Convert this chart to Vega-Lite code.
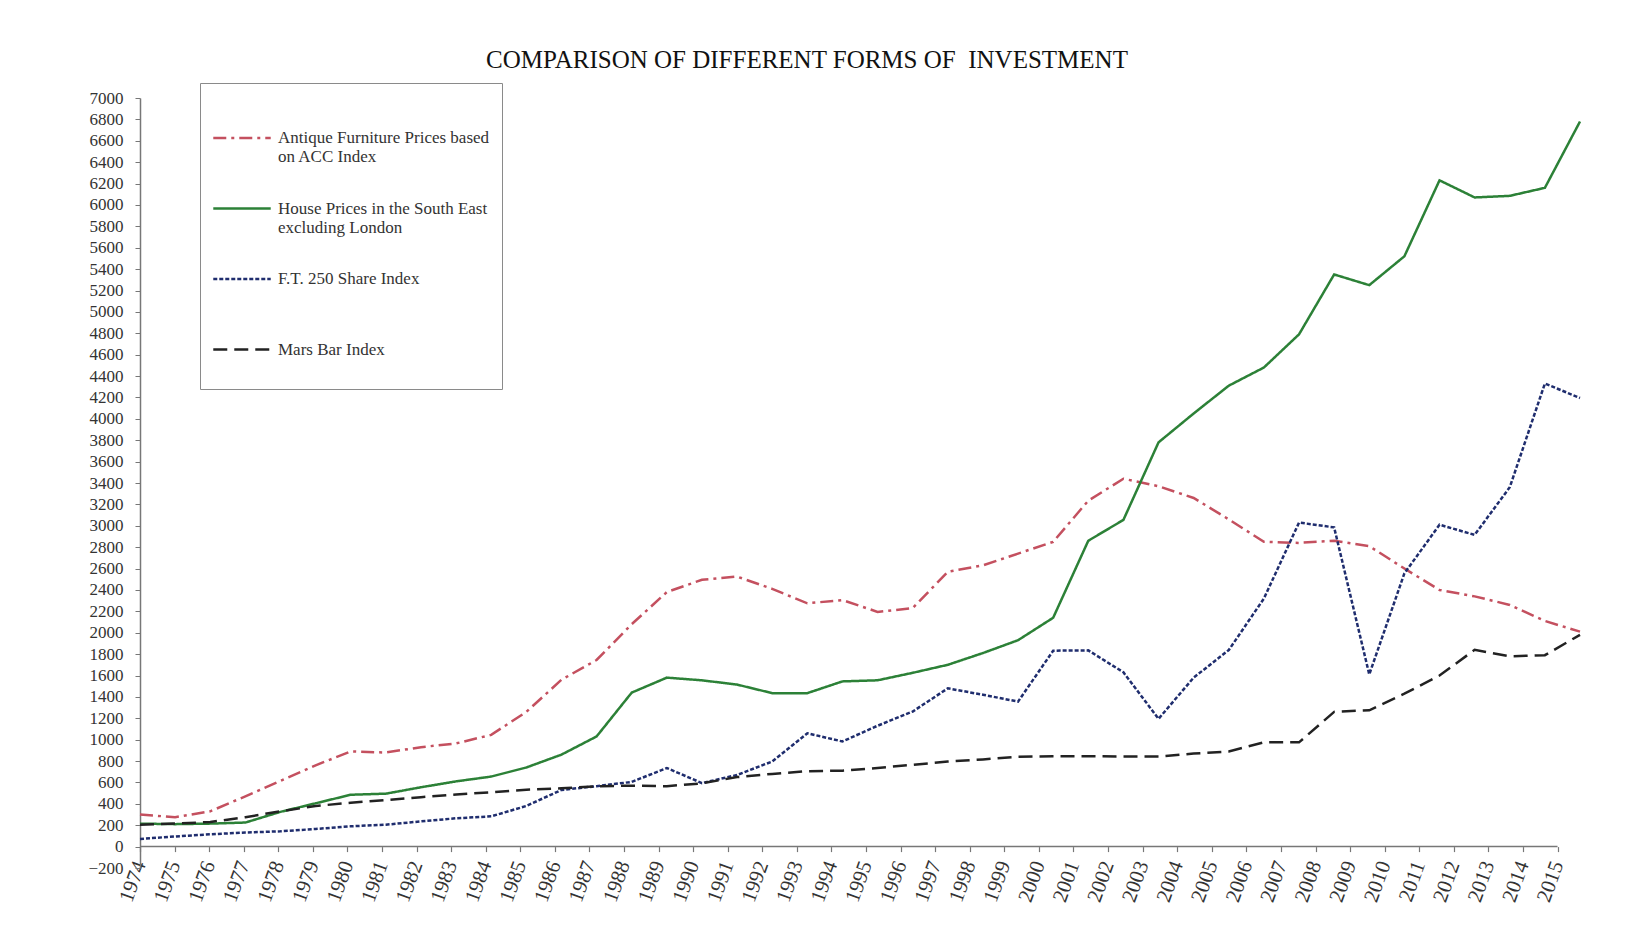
{
  "$schema": "https://vega.github.io/schema/vega-lite/v6.json",
  "autosize": "none",
  "width": 1440,
  "height": 770,
  "padding": {"left": 140, "top": 98, "right": 46, "bottom": 71},
  "background": "white",
  "title": {
    "text": "COMPARISON OF DIFFERENT FORMS OF\u00a0 INVESTMENT",
    "font": "Liberation Serif",
    "fontSize": 25,
    "fontWeight": "normal",
    "color": "#111111",
    "anchor": "middle",
    "dx": -53,
    "offset": 10
  },
  "config": {
    "view": {"stroke": null},
    "axis": {"labelOverlap": false},
    "axisY": {"labelOverlap": false},
    "legend": {
      "orient": "none",
      "strokeColor": "#8a8a8a",
      "fillColor": "white",
      "padding": 12,
      "symbolType": "stroke",
      "symbolSize": 3300,
      "symbolStrokeWidth": 2.5,
      "labelFont": "Liberation Serif",
      "labelFontSize": 17,
      "labelColor": "#333333",
      "labelLimit": 400,
      "gridAlign": "all",
      "rowPadding": 13.5,
      "labelOffset": 6,
      "titleFont": "Liberation Serif",
      "titleFontSize": 11,
      "titlePadding": 2
    }
  },
  "layer": [
    {
      "data": {"values": [{"k": 1}]},
      "mark": {"type": "rule", "color": "#777777", "strokeWidth": 1.5},
      "encoding": {
        "x": {
          "datum": 1974,
          "type": "quantitative",
          "scale": {"domain": [1974, 2015.65], "nice": false, "zero": false},
          "axis": {
            "title": null,
            "grid": false,
            "domain": false,
            "offset": -21.4,
            "values": [1974,1975,1976,1977,1978,1979,1980,1981,1982,1983,1984,1985,1986,1987,1988,1989,1990,1991,1992,1993,1994,1995,1996,1997,1998,1999,2000,2001,2002,2003,2004,2005,2006,2007,2008,2009,2010,2011,2012,2013,2014,2015],
            "format": "d",
            "labelAngle": -70,
            "labelAlign": "right",
            "labelBaseline": "middle",
            "labelFont": "Liberation Serif",
            "labelFontSize": 21,
            "labelColor": "#333333",
            "labelPadding": 10,
            "labelOverlap": false,
            "labelFlush": false,
            "tickSize": 5,
            "tickColor": "#777777",
            "tickWidth": 1.2
          }
        },
        "x2": {"datum": 2015},
        "y": {
          "datum": 0,
          "type": "quantitative",
          "scale": {"domain": [-200, 7000], "nice": false, "zero": false},
          "axis": {
            "title": null,
            "grid": false,
            "values": [-200,0,200,400,600,800,1000,1200,1400,1600,1800,2000,2200,2400,2600,2800,3000,3200,3400,3600,3800,4000,4200,4400,4600,4800,5000,5200,5400,5600,5800,6000,6200,6400,6600,6800,7000],
            "format": "d",
            "labelFont": "Liberation Serif",
            "labelFontSize": 17,
            "labelColor": "#333333",
            "labelPadding": 12,
            "labelOverlap": false,
            "labelFlush": false,
            "tickSize": 5,
            "tickColor": "#777777",
            "domainColor": "#777777",
            "domainWidth": 1.5
          }
        }
      }
    },
    {
      "data": {
        "values": [
          {"year":1974,"series":"Antique Furniture Prices based on ACC Index","value":300},
          {"year":1975,"series":"Antique Furniture Prices based on ACC Index","value":275},
          {"year":1976,"series":"Antique Furniture Prices based on ACC Index","value":330},
          {"year":1977,"series":"Antique Furniture Prices based on ACC Index","value":470},
          {"year":1978,"series":"Antique Furniture Prices based on ACC Index","value":615},
          {"year":1979,"series":"Antique Furniture Prices based on ACC Index","value":760},
          {"year":1980,"series":"Antique Furniture Prices based on ACC Index","value":890},
          {"year":1981,"series":"Antique Furniture Prices based on ACC Index","value":880},
          {"year":1982,"series":"Antique Furniture Prices based on ACC Index","value":930},
          {"year":1983,"series":"Antique Furniture Prices based on ACC Index","value":965},
          {"year":1984,"series":"Antique Furniture Prices based on ACC Index","value":1045},
          {"year":1985,"series":"Antique Furniture Prices based on ACC Index","value":1260},
          {"year":1986,"series":"Antique Furniture Prices based on ACC Index","value":1560},
          {"year":1987,"series":"Antique Furniture Prices based on ACC Index","value":1745},
          {"year":1988,"series":"Antique Furniture Prices based on ACC Index","value":2080},
          {"year":1989,"series":"Antique Furniture Prices based on ACC Index","value":2380},
          {"year":1990,"series":"Antique Furniture Prices based on ACC Index","value":2495},
          {"year":1991,"series":"Antique Furniture Prices based on ACC Index","value":2525},
          {"year":1992,"series":"Antique Furniture Prices based on ACC Index","value":2410},
          {"year":1993,"series":"Antique Furniture Prices based on ACC Index","value":2275},
          {"year":1994,"series":"Antique Furniture Prices based on ACC Index","value":2305},
          {"year":1995,"series":"Antique Furniture Prices based on ACC Index","value":2195},
          {"year":1996,"series":"Antique Furniture Prices based on ACC Index","value":2230},
          {"year":1997,"series":"Antique Furniture Prices based on ACC Index","value":2570},
          {"year":1998,"series":"Antique Furniture Prices based on ACC Index","value":2630},
          {"year":1999,"series":"Antique Furniture Prices based on ACC Index","value":2740},
          {"year":2000,"series":"Antique Furniture Prices based on ACC Index","value":2850},
          {"year":2001,"series":"Antique Furniture Prices based on ACC Index","value":3235},
          {"year":2002,"series":"Antique Furniture Prices based on ACC Index","value":3440},
          {"year":2003,"series":"Antique Furniture Prices based on ACC Index","value":3370},
          {"year":2004,"series":"Antique Furniture Prices based on ACC Index","value":3260},
          {"year":2005,"series":"Antique Furniture Prices based on ACC Index","value":3060},
          {"year":2006,"series":"Antique Furniture Prices based on ACC Index","value":2850},
          {"year":2007,"series":"Antique Furniture Prices based on ACC Index","value":2840},
          {"year":2008,"series":"Antique Furniture Prices based on ACC Index","value":2860},
          {"year":2009,"series":"Antique Furniture Prices based on ACC Index","value":2810},
          {"year":2010,"series":"Antique Furniture Prices based on ACC Index","value":2600},
          {"year":2011,"series":"Antique Furniture Prices based on ACC Index","value":2400},
          {"year":2012,"series":"Antique Furniture Prices based on ACC Index","value":2340},
          {"year":2013,"series":"Antique Furniture Prices based on ACC Index","value":2260},
          {"year":2014,"series":"Antique Furniture Prices based on ACC Index","value":2110},
          {"year":2015,"series":"Antique Furniture Prices based on ACC Index","value":2010},
          {"year":1974,"series":"House Prices in the South East excluding London","value":215},
          {"year":1975,"series":"House Prices in the South East excluding London","value":210},
          {"year":1976,"series":"House Prices in the South East excluding London","value":215},
          {"year":1977,"series":"House Prices in the South East excluding London","value":225},
          {"year":1978,"series":"House Prices in the South East excluding London","value":325},
          {"year":1979,"series":"House Prices in the South East excluding London","value":405},
          {"year":1980,"series":"House Prices in the South East excluding London","value":485},
          {"year":1981,"series":"House Prices in the South East excluding London","value":495},
          {"year":1982,"series":"House Prices in the South East excluding London","value":555},
          {"year":1983,"series":"House Prices in the South East excluding London","value":610},
          {"year":1984,"series":"House Prices in the South East excluding London","value":655},
          {"year":1985,"series":"House Prices in the South East excluding London","value":740},
          {"year":1986,"series":"House Prices in the South East excluding London","value":860},
          {"year":1987,"series":"House Prices in the South East excluding London","value":1030},
          {"year":1988,"series":"House Prices in the South East excluding London","value":1440},
          {"year":1989,"series":"House Prices in the South East excluding London","value":1580},
          {"year":1990,"series":"House Prices in the South East excluding London","value":1555},
          {"year":1991,"series":"House Prices in the South East excluding London","value":1515},
          {"year":1992,"series":"House Prices in the South East excluding London","value":1435},
          {"year":1993,"series":"House Prices in the South East excluding London","value":1435},
          {"year":1994,"series":"House Prices in the South East excluding London","value":1545},
          {"year":1995,"series":"House Prices in the South East excluding London","value":1555},
          {"year":1996,"series":"House Prices in the South East excluding London","value":1625},
          {"year":1997,"series":"House Prices in the South East excluding London","value":1700},
          {"year":1998,"series":"House Prices in the South East excluding London","value":1810},
          {"year":1999,"series":"House Prices in the South East excluding London","value":1930},
          {"year":2000,"series":"House Prices in the South East excluding London","value":2140},
          {"year":2001,"series":"House Prices in the South East excluding London","value":2860},
          {"year":2002,"series":"House Prices in the South East excluding London","value":3055},
          {"year":2003,"series":"House Prices in the South East excluding London","value":3780},
          {"year":2004,"series":"House Prices in the South East excluding London","value":4050},
          {"year":2005,"series":"House Prices in the South East excluding London","value":4310},
          {"year":2006,"series":"House Prices in the South East excluding London","value":4480},
          {"year":2007,"series":"House Prices in the South East excluding London","value":4790},
          {"year":2008,"series":"House Prices in the South East excluding London","value":5350},
          {"year":2009,"series":"House Prices in the South East excluding London","value":5250},
          {"year":2010,"series":"House Prices in the South East excluding London","value":5520},
          {"year":2011,"series":"House Prices in the South East excluding London","value":6230},
          {"year":2012,"series":"House Prices in the South East excluding London","value":6070},
          {"year":2013,"series":"House Prices in the South East excluding London","value":6085},
          {"year":2014,"series":"House Prices in the South East excluding London","value":6160},
          {"year":2015,"series":"House Prices in the South East excluding London","value":6780},
          {"year":1974,"series":"F.T. 250 Share Index","value":72},
          {"year":1975,"series":"F.T. 250 Share Index","value":95},
          {"year":1976,"series":"F.T. 250 Share Index","value":115},
          {"year":1977,"series":"F.T. 250 Share Index","value":132},
          {"year":1978,"series":"F.T. 250 Share Index","value":143},
          {"year":1979,"series":"F.T. 250 Share Index","value":165},
          {"year":1980,"series":"F.T. 250 Share Index","value":190},
          {"year":1981,"series":"F.T. 250 Share Index","value":205},
          {"year":1982,"series":"F.T. 250 Share Index","value":236},
          {"year":1983,"series":"F.T. 250 Share Index","value":265},
          {"year":1984,"series":"F.T. 250 Share Index","value":283},
          {"year":1985,"series":"F.T. 250 Share Index","value":380},
          {"year":1986,"series":"F.T. 250 Share Index","value":530},
          {"year":1987,"series":"F.T. 250 Share Index","value":565},
          {"year":1988,"series":"F.T. 250 Share Index","value":605},
          {"year":1989,"series":"F.T. 250 Share Index","value":735},
          {"year":1990,"series":"F.T. 250 Share Index","value":594},
          {"year":1991,"series":"F.T. 250 Share Index","value":670},
          {"year":1992,"series":"F.T. 250 Share Index","value":796},
          {"year":1993,"series":"F.T. 250 Share Index","value":1060},
          {"year":1994,"series":"F.T. 250 Share Index","value":983},
          {"year":1995,"series":"F.T. 250 Share Index","value":1130},
          {"year":1996,"series":"F.T. 250 Share Index","value":1263},
          {"year":1997,"series":"F.T. 250 Share Index","value":1480},
          {"year":1998,"series":"F.T. 250 Share Index","value":1420},
          {"year":1999,"series":"F.T. 250 Share Index","value":1356},
          {"year":2000,"series":"F.T. 250 Share Index","value":1832},
          {"year":2001,"series":"F.T. 250 Share Index","value":1835},
          {"year":2002,"series":"F.T. 250 Share Index","value":1630},
          {"year":2003,"series":"F.T. 250 Share Index","value":1195},
          {"year":2004,"series":"F.T. 250 Share Index","value":1580},
          {"year":2005,"series":"F.T. 250 Share Index","value":1838},
          {"year":2006,"series":"F.T. 250 Share Index","value":2320},
          {"year":2007,"series":"F.T. 250 Share Index","value":3030},
          {"year":2008,"series":"F.T. 250 Share Index","value":2985},
          {"year":2009,"series":"F.T. 250 Share Index","value":1610},
          {"year":2010,"series":"F.T. 250 Share Index","value":2555},
          {"year":2011,"series":"F.T. 250 Share Index","value":3010},
          {"year":2012,"series":"F.T. 250 Share Index","value":2915},
          {"year":2013,"series":"F.T. 250 Share Index","value":3360},
          {"year":2014,"series":"F.T. 250 Share Index","value":4330},
          {"year":2015,"series":"F.T. 250 Share Index","value":4195},
          {"year":1974,"series":"Mars Bar Index","value":205},
          {"year":1975,"series":"Mars Bar Index","value":215},
          {"year":1976,"series":"Mars Bar Index","value":230},
          {"year":1977,"series":"Mars Bar Index","value":275},
          {"year":1978,"series":"Mars Bar Index","value":330},
          {"year":1979,"series":"Mars Bar Index","value":380},
          {"year":1980,"series":"Mars Bar Index","value":410},
          {"year":1981,"series":"Mars Bar Index","value":435},
          {"year":1982,"series":"Mars Bar Index","value":462},
          {"year":1983,"series":"Mars Bar Index","value":487},
          {"year":1984,"series":"Mars Bar Index","value":508},
          {"year":1985,"series":"Mars Bar Index","value":532},
          {"year":1986,"series":"Mars Bar Index","value":545},
          {"year":1987,"series":"Mars Bar Index","value":565},
          {"year":1988,"series":"Mars Bar Index","value":570},
          {"year":1989,"series":"Mars Bar Index","value":565},
          {"year":1990,"series":"Mars Bar Index","value":592},
          {"year":1991,"series":"Mars Bar Index","value":650},
          {"year":1992,"series":"Mars Bar Index","value":680},
          {"year":1993,"series":"Mars Bar Index","value":705},
          {"year":1994,"series":"Mars Bar Index","value":710},
          {"year":1995,"series":"Mars Bar Index","value":735},
          {"year":1996,"series":"Mars Bar Index","value":765},
          {"year":1997,"series":"Mars Bar Index","value":795},
          {"year":1998,"series":"Mars Bar Index","value":815},
          {"year":1999,"series":"Mars Bar Index","value":840},
          {"year":2000,"series":"Mars Bar Index","value":845},
          {"year":2001,"series":"Mars Bar Index","value":845},
          {"year":2002,"series":"Mars Bar Index","value":843},
          {"year":2003,"series":"Mars Bar Index","value":843},
          {"year":2004,"series":"Mars Bar Index","value":870},
          {"year":2005,"series":"Mars Bar Index","value":890},
          {"year":2006,"series":"Mars Bar Index","value":975},
          {"year":2007,"series":"Mars Bar Index","value":975},
          {"year":2008,"series":"Mars Bar Index","value":1260},
          {"year":2009,"series":"Mars Bar Index","value":1275},
          {"year":2010,"series":"Mars Bar Index","value":1430},
          {"year":2011,"series":"Mars Bar Index","value":1600},
          {"year":2012,"series":"Mars Bar Index","value":1840},
          {"year":2013,"series":"Mars Bar Index","value":1780},
          {"year":2014,"series":"Mars Bar Index","value":1790},
          {"year":2015,"series":"Mars Bar Index","value":1980}
        ]
      },
      "mark": {"type": "line", "strokeWidth": 2.5},
      "encoding": {
        "x": {
          "field": "year",
          "type": "quantitative",
          "scale": {"domain": [1974, 2015], "nice": false, "zero": false},
          "axis": null
        },
        "y": {
          "field": "value",
          "type": "quantitative",
          "scale": {"domain": [-200, 7000], "nice": false, "zero": false},
          "axis": {
            "title": null,
            "grid": false,
            "values": [-200,0,200,400,600,800,1000,1200,1400,1600,1800,2000,2200,2400,2600,2800,3000,3200,3400,3600,3800,4000,4200,4400,4600,4800,5000,5200,5400,5600,5800,6000,6200,6400,6600,6800,7000],
            "format": "d",
            "labelFont": "Liberation Serif",
            "labelFontSize": 17,
            "labelColor": "#333333",
            "labelPadding": 12,
            "labelOverlap": false,
            "labelFlush": false,
            "tickSize": 5,
            "tickColor": "#777777",
            "domainColor": "#777777",
            "domainWidth": 1.5
          }
        },
        "color": {
          "field": "series",
          "type": "nominal",
          "scale": {
            "domain": ["Antique Furniture Prices based on ACC Index", "House Prices in the South East excluding London", "F.T. 250 Share Index", "Mars Bar Index"],
            "range": ["#c4505f", "#2c8137", "#1f2d6e", "#222222"]
          },
          "legend": {
            "title": " ",
            "legendX": 60,
            "legendY": -15,
            "labelExpr": "datum.label == 'Antique Furniture Prices based on ACC Index' ? ['Antique Furniture Prices based', 'on ACC Index'] : datum.label == 'House Prices in the South East excluding London' ? ['House Prices in the South East', 'excluding London'] : datum.label == 'Mars Bar Index' ? ['Mars Bar Index', ' '] : datum.label"
          }
        },
        "strokeDash": {
          "field": "series",
          "type": "nominal",
          "scale": {
            "domain": ["Antique Furniture Prices based on ACC Index", "House Prices in the South East excluding London", "F.T. 250 Share Index", "Mars Bar Index"],
            "range": [[13, 5, 3, 5], [1, 0], [4, 2], [14, 7]]
          },
          "legend": {
            "title": " ",
            "legendX": 60,
            "legendY": -15,
            "labelExpr": "datum.label == 'Antique Furniture Prices based on ACC Index' ? ['Antique Furniture Prices based', 'on ACC Index'] : datum.label == 'House Prices in the South East excluding London' ? ['House Prices in the South East', 'excluding London'] : datum.label == 'Mars Bar Index' ? ['Mars Bar Index', ' '] : datum.label"
          }
        }
      }
    }
  ],
  "resolve": {"scale": {"x": "independent"}}
}
